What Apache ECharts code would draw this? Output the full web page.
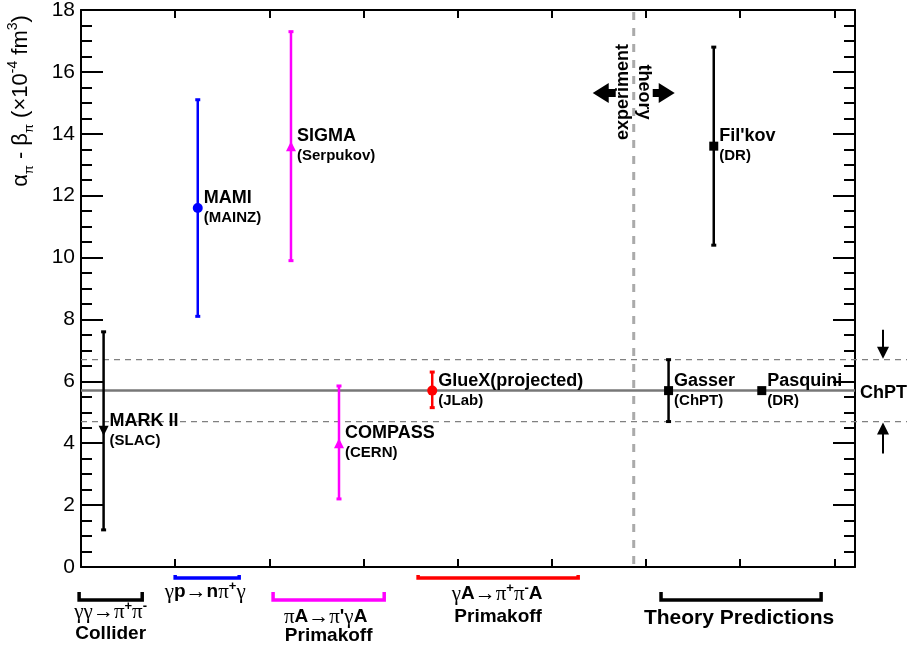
<!DOCTYPE html>
<html>
<head>
<meta charset="utf-8">
<script src="https://cdn.jsdelivr.net/npm/echarts@6/dist/echarts.min.js"></script>
<style>
html, body { margin: 0; padding: 0; background: #fff; }
#chart { width: 911px; height: 651px; }
</style>
</head>
<body>
<div id="chart"></div>
<script>
// measurements and predictions (alpha - beta, 10^-4 fm^3)
var names = ['MARK II', 'MAMI', 'SIGMA', 'COMPASS', 'GlueX(projected)', 'Gasser', "Fil'kov", 'Pasquini'];
var places = ['(SLAC)', '(MAINZ)', '(Serpukov)', '(CERN)', '(JLab)', '(ChPT)', '(DR)', '(DR)'];
var xPos = [0.24, 1.24, 2.23, 2.74, 3.73, 6.24, 6.72, 7.23];
var values = [4.4, 11.6, 13.6, 4.0, 5.7, 5.7, 13.6, 5.7];
var errLow = [1.2, 8.1, 9.9, 2.2, 5.15, 4.7, 10.4, 5.7];
var errHigh = [7.6, 15.1, 17.3, 5.85, 6.3, 6.7, 16.8, 5.7];
var colors = ['#000', '#0000ff', '#ff00ff', '#ff00ff', '#ff0000', '#000', '#000', '#000'];
var symbols = ['triangle', 'circle', 'triangle', 'triangle', 'circle', 'rect', 'rect', 'rect'];
var rotations = [180, 0, 0, 0, 0, 0, 0, 0];

// ChPT band
var chptCenter = 5.7;
var chptLow = 4.7;
var chptHigh = 6.7;

// experiment / theory divider
var dividerX = 5.87;

// y ticks
var yMin = 0, yMax = 18, yStep = 2;
var xMax = 8.22;

// groups below the axis
var bracketFrom = [-0.02, 1.0, 2.04, 3.58, 6.16];
var bracketTo = [0.65, 1.68, 3.22, 5.28, 7.86];
var bracketColors = ['#000', '#0000ff', '#ff00ff', '#ff0000', '#000'];
var bracketLine1 = [
    '{g|γγ→π}{s|+}{g|π}{s|-}',
    '{g|γ}{b|p}{g|→}{b|n}{g|π}{s|+}{g|γ}',
    "{g|π}{b|A}{g|→π}{b|'}{g|γ}{b|A}",
    '{g|γ}{b|A}{g|→π}{s|+}{g|π}{s|-}{b|A}',
    '{t|Theory Predictions}'
];
var bracketLine2 = ['Collider', '', 'Primakoff', 'Primakoff', ''];

var FONT = 'Liberation Sans';

var chart = echarts.init(document.getElementById('chart'));

var bottomRich = {
    g: { fontFamily: 'Liberation Serif', fontSize: 21, color: '#000', lineHeight: 24 },
    b: { fontFamily: FONT, fontWeight: 'bold', fontSize: 19, color: '#000', lineHeight: 24 },
    s: { fontFamily: FONT, fontWeight: 'bold', fontSize: 13, color: '#000', lineHeight: 12, verticalAlign: 'top' },
    t: { fontFamily: FONT, fontWeight: 'bold', fontSize: 21, color: '#000', lineHeight: 24 }
};

var pointData = names.map(function (n, i) {
    return {
        name: n,
        value: [xPos[i], values[i]],
        symbol: symbols[i],
        symbolRotate: rotations[i],
        symbolSize: symbols[i] === 'rect' ? 9 : 10,
        itemStyle: { color: colors[i], opacity: 1 },
        label: {
            formatter: '{a|' + n + '}\n{b|' + places[i] + '}'
        }
    };
});

var option = {
    animation: false,
    backgroundColor: '#fff',
    grid: {
        left: 81, right: 56, top: 10, bottom: 84,
        containLabel: false,
        outerBoundsMode: 'none'
    },
    xAxis: [
        {
            type: 'value', position: 'bottom', min: 0, max: xMax, interval: 1,
            axisLine: { show: true, onZero: false, lineStyle: { color: '#000', width: 2 } },
            axisTick: { show: true, inside: true, length: 8, lineStyle: { color: '#000', width: 2 } },
            axisLabel: { show: false },
            splitLine: { show: false }
        },
        {
            type: 'value', position: 'top', min: 0, max: xMax, interval: 1,
            axisLine: { show: true, onZero: false, lineStyle: { color: '#000', width: 2 } },
            axisTick: { show: true, inside: true, length: 8, lineStyle: { color: '#000', width: 2 } },
            axisLabel: { show: false },
            splitLine: { show: false }
        }
    ],
    yAxis: [
        {
            type: 'value', position: 'left', min: yMin, max: yMax, interval: yStep,
            axisLine: { show: true, onZero: false, lineStyle: { color: '#000', width: 2 } },
            axisTick: { show: true, inside: true, length: 22, lineStyle: { color: '#000', width: 2 } },
            minorTick: { show: true, splitNumber: 4, length: 11, lineStyle: { color: '#000', width: 2 } },
            axisLabel: { color: '#000', fontFamily: FONT, fontSize: 21, margin: 6 },
            splitLine: { show: false }
        },
        {
            type: 'value', position: 'right', min: yMin, max: yMax, interval: yStep,
            axisLine: { show: true, onZero: false, lineStyle: { color: '#000', width: 2 } },
            axisTick: { show: true, inside: true, length: 22, lineStyle: { color: '#000', width: 2 } },
            minorTick: { show: true, splitNumber: 4, length: 11, lineStyle: { color: '#000', width: 2 } },
            axisLabel: { show: false },
            splitLine: { show: false }
        }
    ],
    graphic: [
        {
            type: 'text', x: 21, y: 101, rotation: Math.PI / 2,
            style: {
                text: '{n|α}{sb|π}{n| - β}{sb|π}{n| (×10}{sp|-4}{n| fm}{sp|3}{n|)}',
                align: 'center', verticalAlign: 'middle',
                rich: {
                    n: { fontFamily: FONT, fontSize: 22, color: '#000', lineHeight: 30 },
                    sb: { fontFamily: FONT, fontSize: 13, color: '#000', lineHeight: 13, verticalAlign: 'bottom' },
                    sp: { fontFamily: FONT, fontSize: 14, color: '#000', lineHeight: 13, verticalAlign: 'top' }
                }
            }
        }
    ],
    series: [
        {
            // ChPT band
            type: 'custom',
            silent: true,
            clip: false,
            data: [[chptLow, chptCenter, chptHigh]],
            renderItem: function (params, api) {
                var rect = params.coordSys;
                var x0 = rect.x, x1 = rect.x + rect.width;
                var yc = api.coord([0, api.value(1)])[1];
                var yl = api.coord([0, api.value(0)])[1];
                var yh = api.coord([0, api.value(2)])[1];
                var ax = x1 + 28;
                return {
                    type: 'group',
                    children: [
                        { type: 'line', shape: { x1: x0, y1: yh, x2: x1 + 52, y2: yh },
                          style: { stroke: '#808080', lineWidth: 1.2, lineDash: [6, 5] } },
                        { type: 'line', shape: { x1: x0, y1: yl, x2: x1 + 52, y2: yl },
                          style: { stroke: '#808080', lineWidth: 1.2, lineDash: [6, 5] } },
                        { type: 'line', shape: { x1: x0, y1: yc, x2: x1, y2: yc },
                          style: { stroke: '#777', lineWidth: 2.5 } },
                        { type: 'line', shape: { x1: ax, y1: yh - 30, x2: ax, y2: yh - 10 },
                          style: { stroke: '#000', lineWidth: 2 } },
                        { type: 'polygon', shape: { points: [[ax - 6, yh - 13], [ax + 6, yh - 13], [ax, yh - 1]] },
                          style: { fill: '#000' } },
                        { type: 'line', shape: { x1: ax, y1: yl + 32, x2: ax, y2: yl + 10 },
                          style: { stroke: '#000', lineWidth: 2 } },
                        { type: 'polygon', shape: { points: [[ax - 6, yl + 13], [ax + 6, yl + 13], [ax, yl + 1]] },
                          style: { fill: '#000' } },
                        { type: 'text', x: x1 + 5, y: yc + 2,
                          style: { text: 'ChPT', fill: '#000', fontFamily: FONT, fontWeight: 'bold', fontSize: 18,
                                   align: 'left', verticalAlign: 'middle' } }
                    ]
                };
            }
        },
        {
            // experiment / theory divider
            type: 'custom',
            silent: true,
            clip: false,
            data: [[dividerX]],
            renderItem: function (params, api) {
                var top = api.coord([api.value(0), yMax]);
                var bot = api.coord([api.value(0), yMin]);
                var cx = top[0], ay = top[1] + 83;
                return {
                    type: 'group',
                    children: [
                        { type: 'line', shape: { x1: cx, y1: top[1] + 2, x2: cx, y2: bot[1] },
                          style: { stroke: '#aaa', lineWidth: 3, lineDash: [8, 8] } },
                        { type: 'polygon',
                          shape: { points: [[cx - 41, ay], [cx - 25, ay - 10], [cx - 25, ay - 4], [cx - 18, ay - 4],
                                            [cx - 18, ay + 4], [cx - 25, ay + 4], [cx - 25, ay + 10]] },
                          style: { fill: '#000' } },
                        { type: 'polygon',
                          shape: { points: [[cx + 41, ay], [cx + 25, ay - 10], [cx + 25, ay - 4], [cx + 19, ay - 4],
                                            [cx + 19, ay + 4], [cx + 25, ay + 4], [cx + 25, ay + 10]] },
                          style: { fill: '#000' } },
                        { type: 'text', x: cx - 11, y: ay - 1, rotation: Math.PI / 2,
                          style: { text: 'experiment', fill: '#000', fontFamily: FONT, fontWeight: 'bold', fontSize: 18,
                                   align: 'center', verticalAlign: 'middle' } },
                        { type: 'text', x: cx + 10, y: ay - 1, rotation: -Math.PI / 2,
                          style: { text: 'theory', fill: '#000', fontFamily: FONT, fontWeight: 'bold', fontSize: 18,
                                   align: 'center', verticalAlign: 'middle' } }
                    ]
                };
            }
        },
        {
            // error bars
            type: 'custom',
            silent: true,
            data: xPos.map(function (x, i) { return [x, errLow[i], errHigh[i]]; }),
            renderItem: function (params, api) {
                var x = api.value(0), lo = api.value(1), hi = api.value(2);
                if (lo === hi) return null;
                var t = api.coord([x, hi]), b = api.coord([x, lo]);
                var c = colors[params.dataIndex];
                return {
                    type: 'group',
                    children: [
                        { type: 'line', shape: { x1: t[0], y1: t[1], x2: b[0], y2: b[1] },
                          style: { stroke: c, lineWidth: 2.5 } },
                        { type: 'line', shape: { x1: t[0] - 2.5, y1: t[1], x2: t[0] + 2.5, y2: t[1] },
                          style: { stroke: c, lineWidth: 3 } },
                        { type: 'line', shape: { x1: b[0] - 2.5, y1: b[1], x2: b[0] + 2.5, y2: b[1] },
                          style: { stroke: c, lineWidth: 3 } }
                    ]
                };
            }
        },
        {
            // points
            type: 'scatter',
            silent: true,
            itemStyle: { opacity: 1 },
            data: pointData,
            label: {
                show: true,
                position: 'right',
                distance: 1,
                color: '#000',
                opacity: 1,
                rich: {
                    a: { fontFamily: FONT, fontWeight: 'bold', fontSize: 18, color: '#000', lineHeight: 20 },
                    b: { fontFamily: FONT, fontWeight: 'bold', fontSize: 15, color: '#000', lineHeight: 20 }
                }
            }
        },
        {
            // group brackets under the axis
            type: 'custom',
            silent: true,
            clip: false,
            data: bracketFrom.map(function (f, i) { return [f, bracketTo[i]]; }),
            renderItem: function (params, api) {
                var i = params.dataIndex;
                var a = api.coord([api.value(0), 0]);
                var b = api.coord([api.value(1), 0]);
                var raised = (i === 1 || i === 3);
                var yb = a[1] + (raised ? 11 : 33);
                var h = raised ? 3 : 8;
                var cx = (a[0] + b[0]) / 2;
                var children = [
                    { type: 'polyline',
                      shape: { points: [[a[0], yb - h], [a[0], yb], [b[0], yb], [b[0], yb - h]] },
                      style: { stroke: bracketColors[i], lineWidth: 3.5, fill: null } }
                ];
                var y1 = [45, 25, 50, 27, 51][i];
                children.push({
                    type: 'text', x: cx - [0, 2, 3, 1, 2][i], y: a[1] + y1,
                    style: { text: bracketLine1[i], rich: bottomRich, align: 'center', verticalAlign: 'middle' }
                });
                if (bracketLine2[i]) {
                    children.push({
                        type: 'text', x: cx, y: a[1] + (i === 0 ? 67 : (i === 2 ? 69 : 50)),
                        style: { text: bracketLine2[i], fill: '#000', fontFamily: FONT, fontWeight: 'bold',
                                 fontSize: 19, align: 'center', verticalAlign: 'middle' }
                    });
                }
                return { type: 'group', children: children };
            }
        }
    ]
};

chart.setOption(option);
</script>
</body>
</html>
